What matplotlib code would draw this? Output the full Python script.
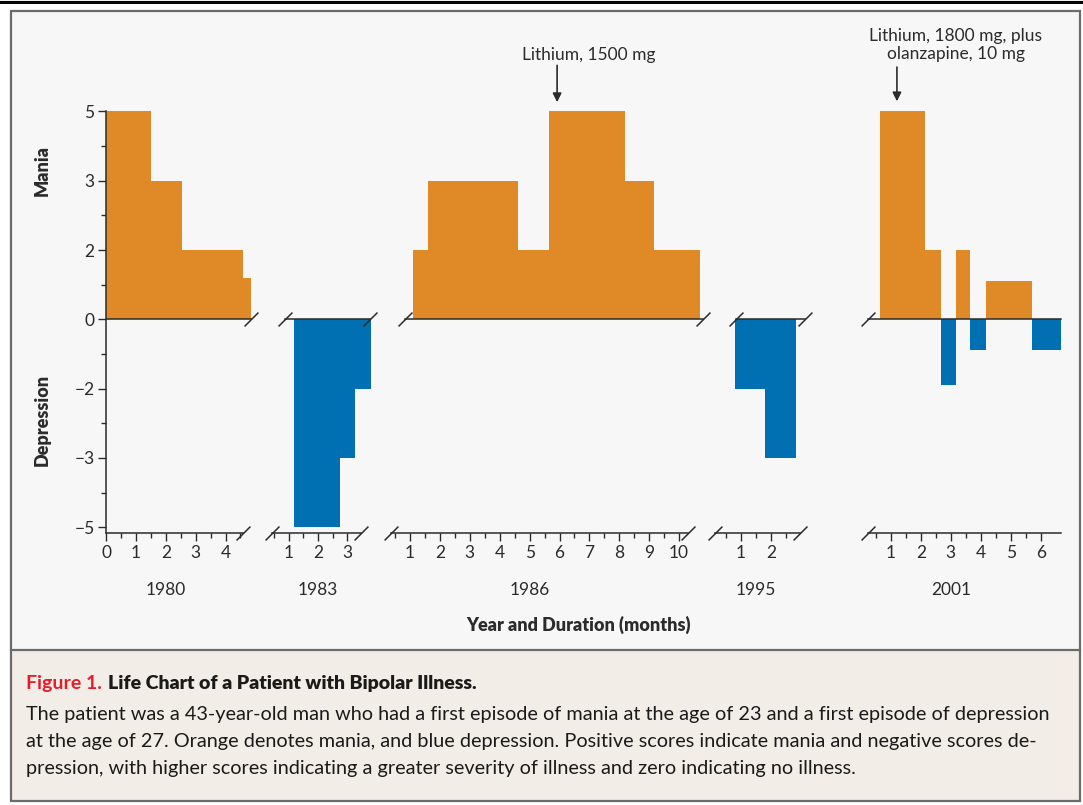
import numpy as np
import matplotlib.pyplot as plt
from matplotlib.patches import Rectangle
from matplotlib.transforms import blended_transform_factory

plt.rcParams['font.family'] = ['Lato', 'DejaVu Sans']

# Episodes: bar edges in months from start of year, and scores
edges_1980 = [0, 1.5, 2.55, 4.6, 4.85]
scores_1980 = [5, 3, 2, 1.2]
edges_1983 = [1.2, 2.75, 3.25, 3.8]
scores_1983 = [-5, -3, -2]
edges_1986 = [1.1, 1.6, 4.6, 5.65, 8.2, 9.15, 10.7]
scores_1986 = [2, 3, 2, 5, 3, 2]
edges_1995 = [0.8, 1.8, 2.83]
scores_1995 = [-2, -3]
edges_2001 = [0.63, 2.13, 2.66, 3.17, 3.63, 4.17, 5.7, 6.67]
scores_2001 = [5, 2, -1.9, 2, -0.9, 1.1, -0.9]

years = ["1980", "1983", "1986", "1995", "2001"]
month_labels = [list(range(0, 5)), list(range(1, 4)), list(range(1, 11)),
                list(range(1, 3)), list(range(1, 7))]
score_ticks = [-5, -3, -2, 0, 2, 3, 5]
score_minor = [-4, -2.5, -1, 1, 2.5, 4]

# the score axis is not linear: labelled ticks are evenly spaced
score_knots = [-9, -5, -3, -2, 0, 2, 3, 5, 9]
pos_knots = [-5, -3, -2, -1, 0, 1, 2, 3, 5]

def fwd(v):
    return np.interp(v, score_knots, pos_knots)

def inv(p):
    return np.interp(p, pos_knots, score_knots)

ORANGE = '#E08927'
BLUE = '#0070B3'
INK = '#2b2b2b'
W, H = 1083, 805

# layout per segment (pixels / months)
seg = [
    dict(m0=106.3, ppm=29.8, xl=(0, 4.95), spine=(0, 4.6), zero=(0, 4.87),
         sb=[4.6], zb=[4.87], minor=np.arange(0.5, 4.6, 1), lab=2.0),
    dict(m0=259.2, ppm=29.4, xl=(0.3, 3.9), spine=(0.44, 3.46), zero=(0.88, 3.78),
         sb=[0.44, 3.46], zb=[0.88, 3.78], minor=np.arange(0.5, 3, 1), lab=2.0),
    dict(m0=380.1, ppm=29.9, xl=(0.2, 11.0), spine=(0.37, 10.3), zero=(0.83, 10.8),
         sb=[0.37, 10.3], zb=[0.83, 10.8], minor=np.arange(0.5, 10, 1), lab=5.0),
    dict(m0=711.0, ppm=30.0, xl=(0.0, 3.3), spine=(0.13, 2.97), zero=(0.83, 3.13),
         sb=[0.13, 2.97], zb=[0.83, 3.13], minor=np.arange(0.5, 3, 1), lab=1.5),
    dict(m0=861.0, ppm=29.95, xl=(0.1, 6.8), spine=(0.23, 6.67), zero=(0.23, 6.67),
         sb=[0.23], zb=[0.23], minor=np.arange(0.5, 6, 1), lab=3.0),
]
all_edges = [edges_1980, edges_1983, edges_1986, edges_1995, edges_2001]
all_scores = [scores_1980, scores_1983, scores_1986, scores_1995, scores_2001]

fig = plt.figure(figsize=(W / 100, H / 100), dpi=100)

# background panels and frame
bg = fig.add_axes([0, 0, 1, 1])
bg.set_zorder(-1)
bg.set_xlim(0, W)
bg.set_ylim(H, 0)
bg.axis('off')
bg.add_patch(Rectangle((11, 11), 1069, 639, facecolor='#F7F7F7', edgecolor='none'))
bg.add_patch(Rectangle((11, 650), 1069, 151, facecolor='#F2EDE7', edgecolor='none'))
bg.add_patch(Rectangle((11, 11), 1069, 790, facecolor='none', edgecolor='#6B6B6B', lw=1.6))
bg.plot([11, 1080], [650, 650], color='#6B6B6B', lw=1.6)
bg.plot([0, W], [1, 1], color='black', lw=0.8)
bg.plot([0, W], [3.5, 3.5], color='black', lw=1.4)

AX_TOP, AX_BOT = 100, 533
ZERO_PX, STEP = 319.3, 69.3
ylo = inv((ZERO_PX - AX_BOT) / STEP)
yhi = inv((ZERO_PX - AX_TOP) / STEP)

axes = []
for i, s in enumerate(seg):
    left = s['m0'] + s['xl'][0] * s['ppm']
    width = (s['xl'][1] - s['xl'][0]) * s['ppm']
    ax = fig.add_axes([left / W, 1 - AX_BOT / H, width / W, (AX_BOT - AX_TOP) / H])
    ax.set_yscale('function', functions=(fwd, inv))
    ax.set_xlim(*s['xl'])
    ax.set_ylim(ylo, yhi)
    ax.patch.set_visible(False)
    for sp in ['top', 'right', 'left']:
        ax.spines[sp].set_visible(False)
    ax.spines['bottom'].set_bounds(*s['spine'])
    ax.spines['bottom'].set_color(INK)
    ax.spines['bottom'].set_linewidth(1.1)

    edges = np.array(all_edges[i])
    sc = np.array(all_scores[i])
    cols = [ORANGE if v > 0 else BLUE for v in sc]
    ax.bar(edges[:-1], sc, width=np.diff(edges), align='edge', color=cols,
           edgecolor='none', zorder=2)

    ax.plot(s['zero'], [0, 0], color=INK, lw=1.1, zorder=3)
    for xb in s['zb']:
        ax.plot(xb, 0, marker=[(-1, -1), (1, 1)], ms=10, mew=1.1, color=INK,
                clip_on=False, zorder=4)
    tr = blended_transform_factory(ax.transData, ax.transAxes)
    for xb in s['sb']:
        ax.plot(xb, 0, marker=[(-1, -1), (1, 1)], ms=10, mew=1.1, color=INK,
                transform=tr, clip_on=False, zorder=4)

    ax.set_xticks(month_labels[i])
    ax.set_xticklabels([str(m) for m in month_labels[i]], fontsize=12.5, color=INK)
    ax.set_xticks(s['minor'], minor=True)
    ax.tick_params(axis='x', which='major', length=5.5, width=1.0, color=INK, pad=3)
    ax.tick_params(axis='x', which='minor', length=3.5, width=1.0, color=INK)
    ax.text(s['lab'], -0.132, years[i], transform=tr, ha='center', va='center',
            fontsize=12.5, color=INK)

    if i == 0:
        ax.spines['left'].set_visible(True)
        ax.spines['left'].set_bounds(ylo, 5)
        ax.spines['left'].set_color(INK)
        ax.spines['left'].set_linewidth(1.1)
        ax.set_yticks(score_ticks)
        ax.set_yticklabels([str(v).replace('-', '\u2212') for v in score_ticks],
                           fontsize=12.5, color=INK)
        ax.set_yticks(score_minor, minor=True)
        ax.yaxis.set_minor_formatter(plt.NullFormatter())
        ax.tick_params(axis='y', which='major', length=5.5, width=1.0, color=INK, pad=3)
        ax.tick_params(axis='y', which='minor', length=3.5, width=1.0, color=INK)
    else:
        ax.set_yticks([])
        ax.set_yticks([], minor=True)
    axes.append(ax)

# drug annotations
ax86 = axes[2]
tr86 = blended_transform_factory(ax86.transData, ax86.transAxes)
ax86.annotate('', xy=(5.92, 0.995), xytext=(5.92, 1.08), xycoords=tr86, textcoords=tr86,
              arrowprops=dict(arrowstyle='-|>', color=INK, lw=1.2, mutation_scale=13,
                              shrinkA=0, shrinkB=0), annotation_clip=False)
ax86.text(6.99, 1.104, 'Lithium, 1500 mg', transform=tr86, ha='center', va='center',
          fontsize=12.5, color=INK)

ax01 = axes[4]
tr01 = blended_transform_factory(ax01.transData, ax01.transAxes)
ax01.annotate('', xy=(1.2, 0.997), xytext=(1.2, 1.076), xycoords=tr01, textcoords=tr01,
              arrowprops=dict(arrowstyle='-|>', color=INK, lw=1.2, mutation_scale=13,
                              shrinkA=0, shrinkB=0), annotation_clip=False)
ax01.text(3.17, 1.127, 'Lithium, 1800 mg, plus\nolanzapine, 10 mg', transform=tr01,
          ha='center', va='center', fontsize=12.5, color=INK, linespacing=1.15)

# axis titles
fig.text(42 / W, 1 - 170 / H, 'Mania', rotation=90, ha='center', va='center',
         fontsize=13, fontweight='heavy', color=INK)
fig.text(42 / W, 1 - 420 / H, 'Depression', rotation=90, ha='center', va='center',
         fontsize=13, fontweight='heavy', color=INK)
fig.text(579 / W, 1 - 625 / H, 'Year and Duration (months)', ha='center', va='center',
         fontsize=13, fontweight='heavy', color=INK)

# caption
t1 = bg.text(26, 683, 'Figure 1.', ha='left', va='center', fontsize=14,
             fontweight='bold', color='#E51D2A')
bg.annotate('Life Chart of a Patient with Bipolar Illness.', xy=(1, 0.5), xycoords=t1,
            xytext=(4, 0), textcoords='offset points', ha='left', va='center',
            fontsize=14, fontweight='heavy', color='#1a1a1a')
caption = [
    "The patient was a 43-year-old man who had a first episode of mania at the age of 23 "
    "and a first episode of depression",
    "at the age of 27. Orange denotes mania, and blue depression. Positive scores indicate "
    "mania and negative scores de-",
    "pression, with higher scores indicating a greater severity of illness and zero "
    "indicating no illness.",
]
for k, line in enumerate(caption):
    bg.text(26, 714 + 27 * k, line, ha='left', va='center', fontsize=14.3, color='#1a1a1a')

plt.savefig('out.png', dpi=100)
